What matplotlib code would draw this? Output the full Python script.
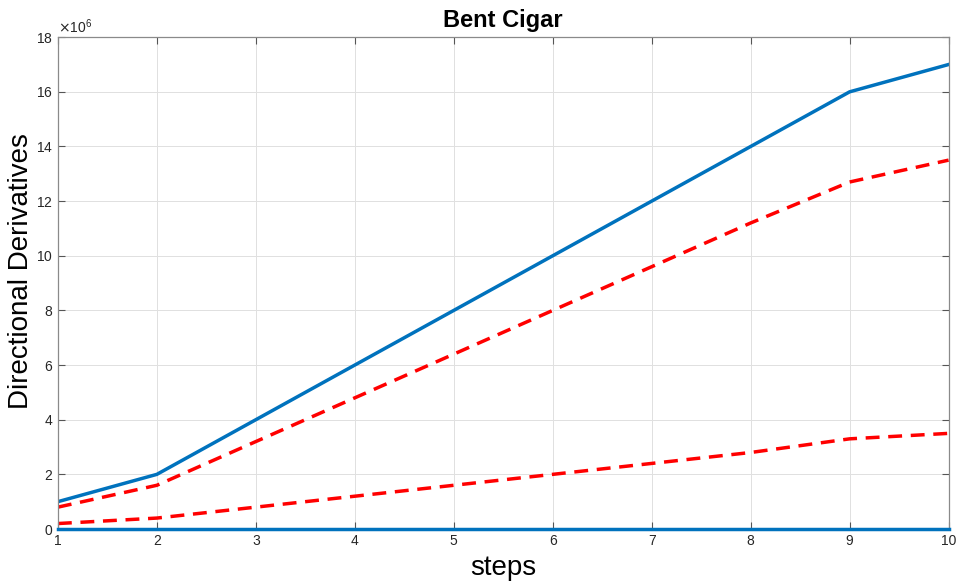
import numpy as np
import matplotlib.pyplot as plt
from matplotlib.ticker import ScalarFormatter

steps = [1, 2, 3, 4, 5, 6, 7, 8, 9, 10]
upper_solid = [1.0e6, 2.0e6, 4.0e6, 6.0e6, 8.0e6, 10.0e6, 12.0e6, 14.0e6, 16.0e6, 17.0e6]
upper_dashed = [0.8e6, 1.6e6, 3.2e6, 4.8e6, 6.4e6, 8.0e6, 9.6e6, 11.2e6, 12.7e6, 13.5e6]
lower_dashed = [0.2e6, 0.4e6, 0.8e6, 1.2e6, 1.6e6, 2.0e6, 2.4e6, 2.8e6, 3.3e6, 3.5e6]
lower_solid = [0, 0, 0, 0, 0, 0, 0, 0, 0, 0]

plt.rcParams["font.family"] = ["Liberation Sans", "DejaVu Sans"]

fig = plt.figure(figsize=(9.65, 5.81), dpi=100)
ax = fig.add_axes([0.060, 0.0895, 0.923, 0.8465])

blue = "#0072BD"
red = "#FF0000"
ax.plot(steps, upper_solid, color=blue, lw=2.5)
ax.plot(steps, lower_solid, color=blue, lw=2.5, clip_on=False, zorder=3)
ax.plot(steps, upper_dashed, color=red, lw=2.5, ls=(0, (4, 2.5)))
ax.plot(steps, lower_dashed, color=red, lw=2.5, ls=(0, (4, 2.5)))

ax.set_xlim(1, 10)
ax.set_ylim(0, 18e6)
ax.set_xticks(steps)
ax.set_yticks(np.arange(0, 18.1e6, 2e6))

fmt = ScalarFormatter(useMathText=True)
fmt.set_powerlimits((6, 6))
ax.yaxis.set_major_formatter(fmt)
ax.yaxis.get_offset_text().set_fontsize(10)
ax.yaxis.get_offset_text().set_color("#555555")

ax.grid(True, color="#e0e0e0", lw=0.7)
ax.tick_params(direction="in", top=True, right=True, length=5, width=0.8,
               colors="#555555", labelsize=10, labelcolor="#262626")
for s in ax.spines.values():
    s.set_color("#8a8a8a")
    s.set_linewidth(0.9)

ax.set_title("Bent Cigar", fontsize=17, fontweight="bold", pad=7)
ax.set_xlabel("steps", fontsize=20, labelpad=5)
ax.set_ylabel("Directional Derivatives", fontsize=20)
ax.yaxis.set_label_coords(-0.027, 0.525)

fig.savefig("out.png", dpi=100)
